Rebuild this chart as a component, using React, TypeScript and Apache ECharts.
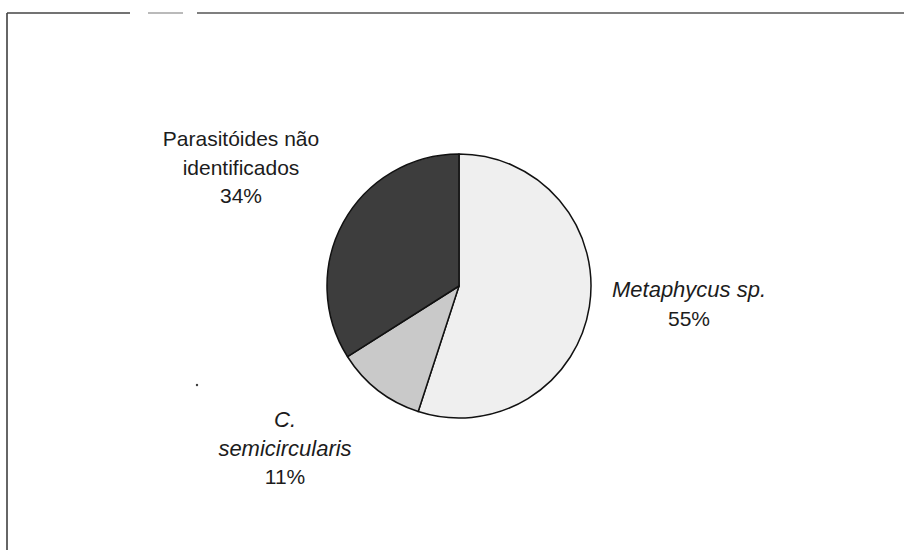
import React, { useEffect, useRef } from "react";
import * as echarts from "echarts";

const names = ["Metaphycus sp.", "C.\nsemicircularis", "Parasitóides não\nidentificados"];
const values = [55, 11, 34];
const italic = [true, true, false];
const colors = ["#efefef", "#c9c9c9", "#3d3d3d"];
const labelPos: [number, number][] = [
  [689, 304],
  [285, 448],
  [241, 167],
];

export default function App() {
  const ref = useRef<HTMLDivElement>(null);
  useEffect(() => {
    document.body.style.margin = "0";
    const chart = echarts.init(ref.current!, null, { renderer: "svg" });
    const font = "Liberation Sans, Arial, sans-serif";
    chart.setOption({
      animation: false,
      backgroundColor: "#ffffff",
      textStyle: { fontFamily: font },
      graphic: [
        { type: "line", shape: { x1: 7, y1: 13, x2: 7, y2: 550 }, style: { stroke: "#333", lineWidth: 1.5 } },
        { type: "line", shape: { x1: 7, y1: 13, x2: 130, y2: 13 }, style: { stroke: "#444", lineWidth: 1.5 } },
        { type: "line", shape: { x1: 148, y1: 13, x2: 183, y2: 13 }, style: { stroke: "#777", lineWidth: 1.2 } },
        { type: "line", shape: { x1: 197, y1: 13, x2: 904, y2: 13 }, style: { stroke: "#555", lineWidth: 1.3 } },
        { type: "circle", shape: { cx: 197, cy: 385, r: 1.2 }, style: { fill: "#333" } },
      ],
      series: [
        {
          type: "pie",
          center: [459, 286],
          radius: 132,
          startAngle: 90,
          clockwise: true,
          silent: true,
          itemStyle: { borderColor: "#111", borderWidth: 1.5 },
          labelLine: { show: false },
          label: {
            show: true,
            position: "outside",
            color: "#1c1c1c",
            formatter: (p: any) => {
              const i = p.dataIndex;
              const tag = italic[i] ? "i" : "n";
              const lines = names[i].split("\n").map((l) => `{${tag}|${l}}`);
              lines.push(`{n|${values[i]}%}`);
              return lines.join("\n");
            },
            rich: {
              n: { fontSize: 21, lineHeight: 28.5, color: "#1c1c1c", fontFamily: font, align: "center" },
              i: { fontSize: 22, lineHeight: 28.5, fontStyle: "italic", color: "#1c1c1c", fontFamily: font, align: "center" },
            },
          },
          labelLayout: (params: any) => {
            const pos = labelPos[params.dataIndex];
            return { x: pos[0], y: pos[1], align: "center", verticalAlign: "middle" };
          },
          data: names.map((n, i) => ({
            name: n,
            value: values[i],
            itemStyle: { color: colors[i] },
          })),
        },
      ],
    });
    return () => chart.dispose();
  }, []);
  return <div ref={ref} style={{ width: 904, height: 550 }} />;
}
